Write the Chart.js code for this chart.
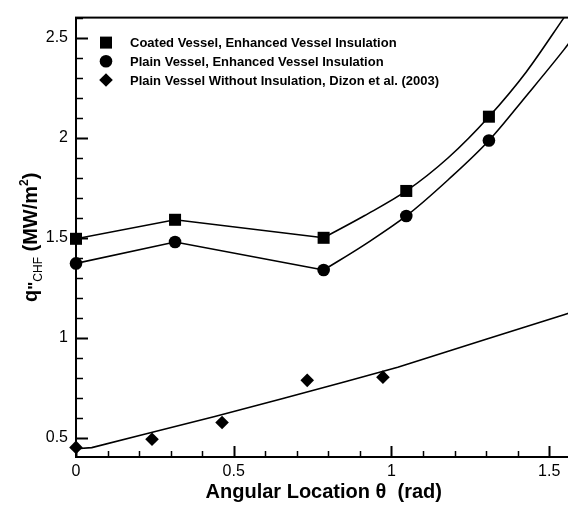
<!DOCTYPE html>
<html>
<head>
<meta charset="utf-8">
<script src="https://cdn.jsdelivr.net/npm/chart.js@4.4.0/dist/chart.umd.min.js"></script>
<style>
  html, body { margin: 0; padding: 0; background: #fff; overflow: hidden; }
  #wrap { position: relative; width: 580px; height: 508px; }
</style>
</head>
<body>
<div id="wrap"><canvas id="chfChart"></canvas></div>
<script>
// ---------- DATA ----------
const legendLabels = [
  'Coated Vessel, Enhanced Vessel Insulation',
  'Plain Vessel, Enhanced Vessel Insulation',
  'Plain Vessel Without Insulation, Dizon et al. (2003)'
];

// measured points (rad, MW/m2)
const pointAngles = [0, 0.314, 0.785, 1.047, 1.309];
const coatedChf   = [1.495, 1.59, 1.50, 1.734, 2.105];
const plainChf    = [1.372, 1.479, 1.339, 1.609, 1.986];
const dizonAngles = [0, 0.241, 0.463, 0.733, 0.973];
const dizonChf    = [0.453, 0.494, 0.577, 0.788, 0.804];

// correlation curves
// straight part (0 .. pi/4) and curved part (pi/4 .. pi/2)
const fitAnglesLow  = [0, 0.314, 0.785];
const coatedFitLow  = [1.495, 1.59, 1.50];
const plainFitLow   = [1.372, 1.479, 1.339];
const fitAnglesHigh = [0.785, 0.914, 1.047, 1.18, 1.309, 1.428, 1.547, 1.571];
const coatedFitHigh = [1.50, 1.61, 1.734, 1.90, 2.105, 2.33, 2.60, 2.655];
const plainFitHigh  = [1.339, 1.465, 1.609, 1.79, 1.986, 2.21, 2.44, 2.49];
const dizonFitAngles = [0, 0.05, 0.22, 0.44, 0.65, 0.85, 1.02, 1.3, 1.547, 1.571];
const dizonFit       = [0.446, 0.452, 0.52, 0.607, 0.695, 0.78, 0.853, 0.993, 1.116, 1.128];

// axes
const xTickLabels = [0, 0.5, 1, 1.5];
const yTickLabels = [0.5, 1, 1.5, 2, 2.5];
const xRange = [0, 1.5708];
const yRange = [0.405, 2.6];

// ---------- HELPERS ----------
const FONT = 'Arial, "Liberation Sans", sans-serif';
const zip = (xs, ys) => xs.map((x, i) => ({ x, y: ys[i] }));

function fitLine(xs, ys, smooth) {
  return {
    data: zip(xs, ys),
    showLine: true,
    borderColor: '#000',
    borderWidth: 1.6,
    pointRadius: 0,
    tension: smooth ? 0.4 : 0,
    cubicInterpolationMode: smooth ? 'monotone' : 'default',
    fill: false,
    isFit: true
  };
}

function markers(label, xs, ys, style, radius) {
  return {
    label,
    data: zip(xs, ys),
    showLine: false,
    pointStyle: style,
    pointRadius: radius,
    pointHoverRadius: radius,
    backgroundColor: '#000',
    borderColor: '#000',
    borderWidth: 0,
    clip: false
  };
}

// ---------- PLUGIN: frame, inward ticks, legend, y title ----------
const decorPlugin = {
  id: 'decor',
  afterDraw(chart) {
    const ctx = chart.ctx;
    const a = chart.chartArea;
    const xs = chart.scales.x, ys = chart.scales.y;
    ctx.save();
    ctx.strokeStyle = '#000';

    // frame
    ctx.lineWidth = 2;
    ctx.strokeRect(a.left, a.top, a.right - a.left, a.bottom - a.top);

    // x ticks (inside, pointing up)
    for (let i = 0; i <= 15; i++) {
      const v = i / 10;
      const major = i % 5 === 0;
      const px = Math.round(xs.getPixelForValue(v)) + 0.5;
      ctx.lineWidth = major ? 2 : 1.5;
      ctx.beginPath();
      ctx.moveTo(px, a.bottom);
      ctx.lineTo(px, a.bottom - (major ? 11 : 6));
      ctx.stroke();
    }
    // y ticks (inside, pointing right)
    for (let i = 5; i <= 26; i++) {
      const v = i / 10;
      const major = i % 5 === 0;
      const py = Math.round(ys.getPixelForValue(v)) + 0.5;
      ctx.lineWidth = major ? 2 : 1.5;
      ctx.beginPath();
      ctx.moveTo(a.left, py);
      ctx.lineTo(a.left + (major ? 12 : 7), py);
      ctx.stroke();
    }

    // legend inside the plot
    const items = chart.data.datasets.filter(d => !d.isFit);
    ctx.fillStyle = '#000';
    ctx.font = 'bold 13px ' + FONT;
    ctx.textBaseline = 'middle';
    ctx.textAlign = 'left';
    items.forEach((d, i) => {
      const mx = a.left + 30, my = a.top + 25 + i * 18.7;
      ctx.beginPath();
      if (d.pointStyle === 'rect') {
        ctx.rect(mx - 6, my - 6, 12, 12);
      } else if (d.pointStyle === 'circle') {
        ctx.arc(mx, my, 6.3, 0, Math.PI * 2);
      } else {
        ctx.moveTo(mx, my - 6.8); ctx.lineTo(mx + 6.8, my);
        ctx.lineTo(mx, my + 6.8); ctx.lineTo(mx - 6.8, my);
        ctx.closePath();
      }
      ctx.fill();
      ctx.fillText(d.label, mx + 24, my + 1);
    });

    // y axis title: q''CHF (MW/m2)
    const parts = [
      { t: 'q',      f: 'bold 20px ', dy: 0 },
      { t: '"',      f: 'bold 17px ', dy: 3 },
      { t: 'CHF',    f: '12px ',      dy: 5 },
      { t: ' (MW/m', f: 'bold 20px ', dy: 0 },
      { t: '2',      f: 'bold 12px ', dy: -9 },
      { t: ')',      f: 'bold 20px ', dy: 0 }
    ];
    let total = 0;
    parts.forEach(p => { ctx.font = p.f + FONT; p.w = ctx.measureText(p.t).width; total += p.w; });
    ctx.translate(37, (a.top + a.bottom) / 2);
    ctx.rotate(-Math.PI / 2);
    ctx.textBaseline = 'alphabetic';
    let cx = -total / 2;
    parts.forEach(p => {
      ctx.font = p.f + FONT;
      ctx.fillText(p.t, cx, p.dy);
      cx += p.w;
    });
    ctx.restore();
  }
};

// ---------- CHART ----------
const datasets = [
  fitLine(fitAnglesLow, coatedFitLow, false),
  fitLine(fitAnglesHigh, coatedFitHigh, true),
  fitLine(fitAnglesLow, plainFitLow, false),
  fitLine(fitAnglesHigh, plainFitHigh, true),
  fitLine(dizonFitAngles, dizonFit, false),
  markers(legendLabels[0], pointAngles, coatedChf, 'rect', 8.5),
  markers(legendLabels[1], pointAngles, plainChf, 'circle', 6.3),
  markers(legendLabels[2], dizonAngles, dizonChf, 'rectRot', 6.8)
];

new Chart(document.getElementById('chfChart'), {
  type: 'scatter',
  data: { datasets },
  options: {
    responsive: true,
    maintainAspectRatio: false,
    animation: false,
    events: [],
    layout: { padding: { left: 0, top: 7, right: 4.5, bottom: 0 } },
    plugins: { legend: { display: false }, tooltip: { enabled: false } },
    scales: {
      x: {
        type: 'linear',
        min: xRange[0],
        max: xRange[1],
        afterBuildTicks: s => { s.ticks = xTickLabels.map(v => ({ value: v })); },
        afterFit: s => { s.height = 51; },
        grid: { display: false, drawTicks: false },
        border: { display: true, color: '#000', width: 2 },
        ticks: {
          color: '#000',
          font: { family: FONT, size: 16 },
          padding: 5,
          maxRotation: 0,
          callback: v => String(v)
        },
        title: {
          display: true,
          text: 'Angular Location \u03b8  (rad)',
          color: '#000',
          font: { family: FONT, size: 20, weight: 'bold' },
          padding: { top: 0, bottom: 4 }
        }
      },
      y: {
        type: 'linear',
        min: yRange[0],
        max: yRange[1],
        afterBuildTicks: s => { s.ticks = yTickLabels.map(v => ({ value: v })); },
        afterFit: s => { s.width = 76; },
        grid: { display: false, drawTicks: false },
        border: { display: true, color: '#000', width: 2 },
        ticks: {
          color: '#000',
          font: { family: FONT, size: 16 },
          padding: 8,
          callback: v => String(v)
        }
      }
    }
  },
  plugins: [decorPlugin]
});
</script>
</body>
</html>
